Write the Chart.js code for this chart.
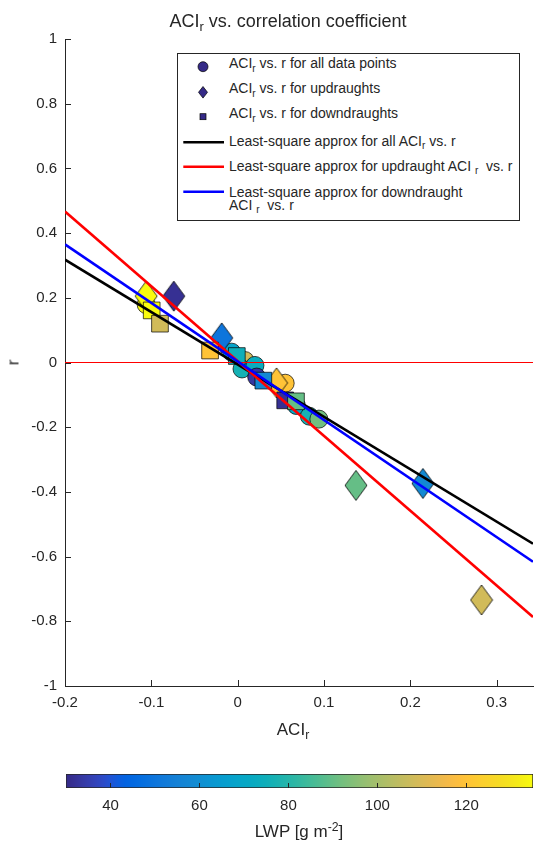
<!DOCTYPE html>
<html>
<head>
<meta charset="utf-8">
<title>ACIr vs. correlation coefficient</title>
<script src="https://cdn.jsdelivr.net/npm/chart.js@4.4.1/dist/chart.umd.min.js"></script>
<style>
  html, body { margin: 0; padding: 0; background: #fff; }
  body {
    width: 534px; height: 843px; position: relative; overflow: hidden;
    font-family: "Liberation Sans", Arial, Helvetica, sans-serif; color: #262626;
  }
  canvas { position: absolute; left: 0; }
  #main { top: 0; }
  #cbar { top: 745px; }
  .txt { position: absolute; line-height: 1; white-space: nowrap; }
  .sub { font-size: 0.72em; position: relative; top: 0.33em; }
  .sup { font-size: 0.72em; position: relative; top: -0.42em; }
  #title { left: 88px; width: 400px; top: 11.8px; font-size: 18px; text-align: center; }
  #xlabel { left: 193px; width: 200px; top: 720.6px; font-size: 17px; text-align: center; }
  #ylabel { left: 2.6px; width: 20px; top: 354px; font-size: 17px; text-align: center; transform: rotate(-90deg); }
  #cblabel { left: 199px; width: 200px; top: 822.6px; font-size: 17px; text-align: center; }
  #legend {
    position: absolute; left: 177px; top: 53px; width: 343px; height: 168px;
    box-sizing: border-box; border: 1px solid #262626; background: #fff;
  }
  #legend svg { position: absolute; left: 0; top: 0; }
  #legend .txt { left: 51px; font-size: 14px; }
</style>
</head>
<body>
<canvas id="main" width="534" height="745"></canvas>
<canvas id="cbar" width="534" height="98"></canvas>

<div id="title" class="txt">ACI<span class="sub">r</span> vs. correlation coefficient</div>
<div id="xlabel" class="txt">ACI<span class="sub">r</span></div>
<div id="ylabel" class="txt">r</div>
<div id="cblabel" class="txt">LWP [g m<span class="sup">-2</span>]</div>

<div id="legend">
  <svg width="341" height="166" viewBox="0 0 341 166">
    <circle cx="25" cy="12.7" r="5" fill="#352a87" stroke="#000" stroke-width="0.7"/>
    <polygon points="25,32.5 29.5,38.3 25,44.1 20.5,38.3" fill="#352a87" stroke="#000" stroke-width="0.7"/>
    <rect x="22" y="59.7" width="6" height="6" fill="#352a87" stroke="#000" stroke-width="0.7"/>
    <line x1="5.3" y1="88.3" x2="46" y2="88.3" stroke="#000" stroke-width="2.6"/>
    <line x1="5.3" y1="112.7" x2="46" y2="112.7" stroke="#ff0000" stroke-width="2.6"/>
    <line x1="5.3" y1="137.7" x2="46" y2="137.7" stroke="#0000ff" stroke-width="2.6"/>
  </svg>
  <div class="txt" style="top:2.4px">ACI<span class="sub">r</span> vs. r for all data points</div>
  <div class="txt" style="top:27.4px">ACI<span class="sub">r</span> vs. r for updraughts</div>
  <div class="txt" style="top:52.4px">ACI<span class="sub">r</span> vs. r for downdraughts</div>
  <div class="txt" style="top:80.1px">Least-square approx for all ACI<span class="sub">r</span> vs. r</div>
  <div class="txt" style="top:105.1px">Least-square approx for updraught ACI&nbsp;<span class="sub">r</span>&nbsp; vs. r</div>
  <div class="txt" style="top:130.8px">Least-square approx for downdraught</div>
  <div class="txt" style="top:144.1px">ACI&nbsp;<span class="sub">r</span>&nbsp; vs. r</div>
</div>

<script>
// ---------------- data ----------------
const xTicks = [-0.2, -0.1, 0, 0.1, 0.2, 0.3];
const yTicks = [-1, -0.8, -0.6, -0.4, -0.2, 0, 0.2, 0.4, 0.6, 0.8, 1];
const lwpTicks = [40, 60, 80, 100, 120];
const lwpRange = [30, 135];

// all data points (circles)
const allAci = [-0.106, -0.007, 0.0085, 0.005, 0.020, 0.022, 0.055, 0.068, 0.083, 0.094];
const allR   = [0.179, 0.032, 0.006, -0.020, -0.009, -0.045, -0.064, -0.133, -0.166, -0.175];
const allLwp = [134, 68, 108, 76, 73, 34, 120, 70, 76, 92];

// updraughts (diamonds)
const upAci = [-0.106, -0.074, -0.0185, 0.045, 0.137, 0.2145, 0.2824];
const upR   = [0.205, 0.205, 0.076, -0.063, -0.380, -0.374, -0.734];
const upLwp = [134, 32, 50, 120, 90, 58, 108];

// downdraughts (squares)
const downAci = [-0.0996, -0.090, -0.032, -0.001, 0.0297, 0.055, 0.0675];
const downR   = [0.161, 0.120, 0.037, 0.020, -0.056, -0.117, -0.120];
const downLwp = [134, 108, 120, 75, 58, 32, 90];

// least-square fits, evaluated at the ends of the ACIr axis
const fitAci   = [-0.2, 0.342];
const fitAllR  = [0.318, -0.560];
const fitUpR   = [0.467, -0.787];
const fitDownR = [0.365, -0.616];
const zeroR    = [0, 0];

// ---------------- colormap (parula) ----------------
const PARULA = [
  [0.2081,0.1663,0.5292],[0.2116,0.1898,0.5777],[0.2123,0.2138,0.6270],[0.2081,0.2386,0.6771],
  [0.1959,0.2645,0.7279],[0.1707,0.2919,0.7792],[0.1253,0.3242,0.8303],[0.0591,0.3598,0.8683],
  [0.0117,0.3875,0.8820],[0.0060,0.4086,0.8828],[0.0165,0.4266,0.8786],[0.0329,0.4430,0.8720],
  [0.0498,0.4586,0.8641],[0.0629,0.4737,0.8554],[0.0723,0.4887,0.8467],[0.0779,0.5040,0.8384],
  [0.0793,0.5200,0.8312],[0.0749,0.5375,0.8263],[0.0641,0.5570,0.8240],[0.0488,0.5772,0.8228],
  [0.0343,0.5966,0.8199],[0.0265,0.6137,0.8135],[0.0239,0.6287,0.8038],[0.0231,0.6418,0.7913],
  [0.0228,0.6535,0.7768],[0.0267,0.6642,0.7607],[0.0384,0.6743,0.7436],[0.0590,0.6838,0.7254],
  [0.0843,0.6928,0.7062],[0.1133,0.7015,0.6859],[0.1453,0.7098,0.6646],[0.1801,0.7177,0.6424],
  [0.2178,0.7250,0.6193],[0.2586,0.7317,0.5954],[0.3022,0.7376,0.5712],[0.3482,0.7424,0.5473],
  [0.3953,0.7459,0.5244],[0.4420,0.7481,0.5033],[0.4871,0.7491,0.4840],[0.5300,0.7491,0.4661],
  [0.5709,0.7485,0.4494],[0.6099,0.7473,0.4337],[0.6473,0.7456,0.4188],[0.6834,0.7435,0.4044],
  [0.7184,0.7411,0.3905],[0.7525,0.7384,0.3768],[0.7858,0.7356,0.3633],[0.8185,0.7327,0.3498],
  [0.8507,0.7299,0.3360],[0.8824,0.7274,0.3217],[0.9139,0.7258,0.3063],[0.9450,0.7261,0.2886],
  [0.9739,0.7314,0.2666],[0.9938,0.7455,0.2403],[0.9990,0.7653,0.2164],[0.9955,0.7861,0.1967],
  [0.9880,0.8066,0.1794],[0.9789,0.8271,0.1633],[0.9697,0.8481,0.1475],[0.9626,0.8705,0.1309],
  [0.9589,0.8949,0.1132],[0.9598,0.9218,0.0948],[0.9661,0.9514,0.0755],[0.9763,0.9831,0.0538]
];
function rgbOf(c) {
  return 'rgb(' + Math.round(c[0] * 255) + ',' + Math.round(c[1] * 255) + ',' + Math.round(c[2] * 255) + ')';
}
function lwpColor(v) {
  let t = (v - lwpRange[0]) / (lwpRange[1] - lwpRange[0]);
  t = Math.max(0, Math.min(1, t));
  const i = Math.min(PARULA.length - 1, Math.floor(t * PARULA.length));
  return rgbOf(PARULA[i]);
}

// diamond marker (taller than wide), rendered once per colour
const diamondCache = {};
function diamondMark(color) {
  if (diamondCache[color]) return diamondCache[color];
  const w = 24, h = 32;
  const c = document.createElement('canvas');
  c.width = w; c.height = h;
  const g = c.getContext('2d');
  g.beginPath();
  g.moveTo(w / 2, 1); g.lineTo(w - 1, h / 2); g.lineTo(w / 2, h - 1); g.lineTo(1, h / 2);
  g.closePath();
  g.fillStyle = color; g.fill();
  g.lineWidth = 0.8; g.strokeStyle = '#000'; g.stroke();
  diamondCache[color] = c;
  return c;
}

const pts = (xs, ys) => xs.map((x, i) => ({ x: x, y: ys[i] }));
const fmt = v => String(+Number(v).toFixed(2));
const FONT = 'Liberation Sans, Arial, Helvetica, sans-serif';
const AXIS = '#262626';

// fixed scale footprint, no extra room reserved for edge labels
function fixHeight(h) {
  return s => { s.height = h; s.paddingLeft = 0; s.paddingRight = 0; };
}
function fixWidth(w) {
  return s => { s.width = w; s.paddingTop = 0; s.paddingBottom = 0; };
}

// inward tick marks, MATLAB style
const inwardTicks = {
  id: 'inwardTicks',
  afterDatasetsDraw(chart, args, opts) {
    const ctx = chart.ctx;
    ctx.save();
    ctx.strokeStyle = AXIS;
    ctx.lineWidth = 1;
    ctx.beginPath();
    if (opts.x) {
      const s = chart.scales.x;
      opts.x.forEach(v => {
        const px = Math.round(s.getPixelForValue(v)) + 0.5;
        ctx.moveTo(px, s.top); ctx.lineTo(px, s.top - opts.len);
      });
    }
    if (opts.y) {
      const s = chart.scales.y;
      opts.y.forEach(v => {
        const py = Math.round(s.getPixelForValue(v)) + 0.5;
        ctx.moveTo(s.right, py); ctx.lineTo(s.right + opts.len, py);
      });
    }
    ctx.stroke();
    ctx.restore();
  }
};

// ---------------- main scatter plot ----------------
new Chart(document.getElementById('main'), {
  type: 'scatter',
  data: {
    datasets: [
      { label: 'fit down', data: pts(fitAci, fitDownR), showLine: true, borderColor: '#0000ff',
        borderWidth: 2.6, pointRadius: 0, order: 0 },
      { label: 'fit up', data: pts(fitAci, fitUpR), showLine: true, borderColor: '#ff0000',
        borderWidth: 2.6, pointRadius: 0, order: 1 },
      { label: 'fit all', data: pts(fitAci, fitAllR), showLine: true, borderColor: '#000000',
        borderWidth: 2.6, pointRadius: 0, order: 2 },
      { label: 'r = 0', data: pts(fitAci, zeroR), showLine: true, borderColor: '#ff0000',
        borderWidth: 1.2, pointRadius: 0, order: 3 },
      { label: 'downdraughts', data: pts(downAci, downR), pointStyle: 'rect', pointRadius: 11.8,
        backgroundColor: downLwp.map(lwpColor), borderColor: '#000', borderWidth: 0.7, order: 4 },
      { label: 'updraughts', data: pts(upAci, upR), pointStyle: upLwp.map(v => diamondMark(lwpColor(v))),
        pointRadius: 15, backgroundColor: upLwp.map(lwpColor), borderWidth: 0, order: 5 },
      { label: 'all data points', data: pts(allAci, allR), pointStyle: 'circle', pointRadius: 9,
        backgroundColor: allLwp.map(lwpColor), borderColor: '#000', borderWidth: 0.7, order: 6 }
    ]
  },
  options: {
    responsive: false,
    animation: false,
    events: [],
    layout: { autoPadding: false, padding: { left: 0, top: 39, right: 1, bottom: 0 } },
    plugins: {
      legend: { display: false },
      tooltip: { enabled: false },
      inwardTicks: { x: xTicks, y: yTicks, len: 6 }
    },
    scales: {
      x: {
        type: 'linear', min: fitAci[0], max: fitAci[1],
        afterBuildTicks: s => { s.ticks = xTicks.map(v => ({ value: v })); },
        afterFit: fixHeight(59),
        grid: { display: false, drawTicks: false },
        border: { display: true, color: AXIS, width: 1 },
        ticks: { color: AXIS, font: { family: FONT, size: 15 }, padding: 8, maxRotation: 0,
                 autoSkip: false, callback: v => fmt(v) }
      },
      y: {
        type: 'linear', min: yTicks[0], max: yTicks[yTicks.length - 1],
        afterBuildTicks: s => { s.ticks = yTicks.map(v => ({ value: v })); },
        afterFit: fixWidth(65),
        grid: { display: false, drawTicks: false },
        border: { display: true, color: AXIS, width: 1 },
        ticks: { color: AXIS, font: { family: FONT, size: 15 }, padding: 8,
                 autoSkip: false, callback: v => fmt(v) }
      }
    }
  },
  plugins: [inwardTicks]
});

// ---------------- colour bar ----------------
function parulaGradient(chart) {
  const area = chart.chartArea;
  if (!area) return rgbOf(PARULA[0]);
  const s = chart.scales.x;
  const g = chart.ctx.createLinearGradient(s.getPixelForValue(lwpRange[0]), 0, s.getPixelForValue(lwpRange[1]), 0);
  PARULA.forEach((c, i) => g.addColorStop(i / (PARULA.length - 1), rgbOf(c)));
  return g;
}

new Chart(document.getElementById('cbar'), {
  type: 'bar',
  data: {
    labels: ['LWP'],
    datasets: [{
      data: [lwpRange],
      backgroundColor: ctx => parulaGradient(ctx.chart),
      borderColor: AXIS, borderWidth: 1, borderSkipped: false,
      barPercentage: 1, categoryPercentage: 1
    }]
  },
  options: {
    indexAxis: 'y',
    responsive: false,
    animation: false,
    events: [],
    layout: { autoPadding: false, padding: { left: 66, top: 29, right: 1, bottom: 0 } },
    plugins: {
      legend: { display: false },
      tooltip: { enabled: false },
      inwardTicks: { x: lwpTicks, len: 5 }
    },
    scales: {
      x: {
        type: 'linear', min: lwpRange[0], max: lwpRange[1],
        afterBuildTicks: s => { s.ticks = lwpTicks.map(v => ({ value: v })); },
        afterFit: fixHeight(55),
        grid: { display: false, drawTicks: false },
        border: { display: false },
        ticks: { color: AXIS, font: { family: FONT, size: 15 }, padding: 9, maxRotation: 0,
                 autoSkip: false, callback: v => fmt(v) }
      },
      y: { display: false }
    }
  },
  plugins: [inwardTicks]
});
</script>
</body>
</html>
